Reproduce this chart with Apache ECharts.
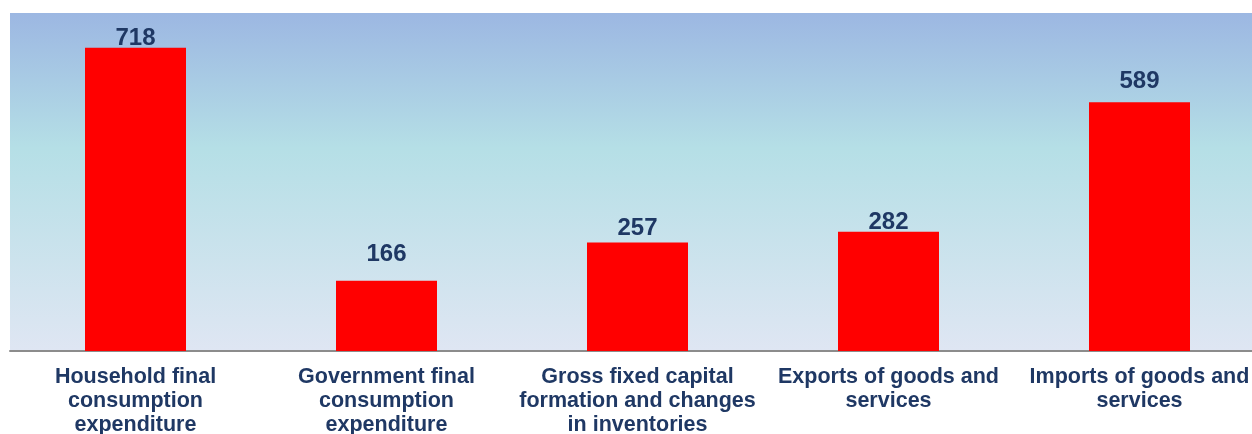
<!DOCTYPE html>
<html><head><meta charset="utf-8">
<script src="https://cdn.jsdelivr.net/npm/echarts@6/dist/echarts.min.js"></script>
<style>html,body{margin:0;padding:0;background:#fff}#c{width:1252px;height:434px}</style>
</head><body><div id="c"></div>
<script>
const categories = [
  "Household final\nconsumption\nexpenditure",
  "Government final\nconsumption\nexpenditure",
  "Gross fixed capital\nformation and changes\nin inventories",
  "Exports of goods and\nservices",
  "Imports of goods and\nservices"
];
const values = [718, 166, 257, 282, 589];
const yMin = 0, yMax = 800;

// label distance above each bar (style only, as placed in the original)
const labelDistance = [-3, 14, 2, -3, 9];

const chart = echarts.init(document.getElementById('c'));
chart.setOption({
  animation: false,
  grid: {
    left: 10, right: -13, top: 13, bottom: 83, containLabel: false,
    outerBoundsMode: 'none',
    show: true, borderWidth: 0,
    backgroundColor: new echarts.graphic.LinearGradient(0, 0, 0, 1, [
      {offset: 0, color: '#9cb7e2'},
      {offset: 0.4, color: '#b5dfe6'},
      {offset: 1, color: '#dfe6f3'}
    ])
  },
  xAxis: {
    type: 'category', data: categories,
    axisLine: {show: true, lineStyle: {color: '#8c8c8c', width: 2}},
    axisTick: {show: false},
    axisLabel: {
      interval: 0, margin: 14, color: '#1f3864',
      fontFamily: 'Liberation Sans, Arial, sans-serif', fontWeight: 'bold',
      fontSize: 21.5, lineHeight: 24
    }
  },
  yAxis: {
    type: 'value', min: yMin, max: yMax, show: false,
    splitLine: {show: false}
  },
  series: [{
    type: 'bar', barWidth: 101,
    data: values.map((v, i) => ({value: v, label: {distance: labelDistance[i]}})),
    itemStyle: {color: '#ff0000'},
    label: {
      show: true, position: 'top', color: '#1f3864',
      fontFamily: 'Liberation Sans, Arial, sans-serif', fontWeight: 'bold', fontSize: 24
    }
  }]
});
</script></body></html>
